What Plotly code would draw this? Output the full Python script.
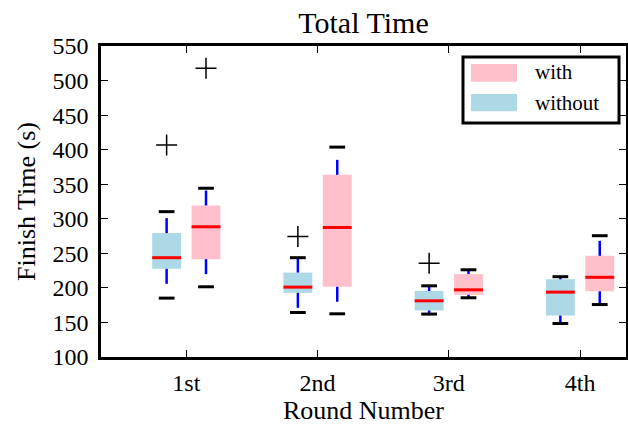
import plotly.graph_objects as go

# ---------------- data ----------------
rounds = ["1st", "2nd", "3rd", "4th"]
positions = [1, 2, 3, 4]

without_q1 = [227.6, 192.9, 167.3, 160.0]
without_med = [243.7, 201.1, 181.3, 193.9]
without_q3 = [279.3, 222.2, 195.5, 212.4]
without_lo = [185.2, 164.4, 162.1, 148.5]
without_hi = [310.3, 243.7, 203.0, 216.2]
without_out = [[406.8], [274.3], [235.6], []]

with_q1 = [241.6, 201.6, 190.0, 195.0]
with_med = [288.4, 287.4, 197.2, 215.3]
with_q3 = [319.2, 363.6, 220.0, 246.4]
with_lo = [201.6, 162.5, 185.7, 175.9]
with_hi = [344.2, 403.7, 226.2, 275.5]
with_out = [[517.7], [], [], []]

# ---------------- styling ----------------
FONT = "Liberation Serif"
BOX_W = 0.22
CAP_W = 0.12
OFFSET = 0.15

series = [
    ("without", -OFFSET, "lightblue", without_q1, without_med, without_q3, without_lo, without_hi, without_out),
    ("with", OFFSET, "pink", with_q1, with_med, with_q3, with_lo, with_hi, with_out),
]

fig = go.Figure()

# boxes
for name, off, color, q1, med, q3, lo, hi, outs in series:
    xs = [p + off for p in positions]
    fig.add_trace(go.Bar(
        x=xs, y=[b - a for a, b in zip(q1, q3)], base=q1, width=BOX_W,
        marker=dict(color=color, line=dict(width=0)),
        name=name, showlegend=False, hoverinfo="skip",
    ))

# whiskers, caps, medians, fliers
for name, off, color, q1, med, q3, lo, hi, outs in series:
    for p, a, m, b, l, h, o in zip(positions, q1, med, q3, lo, hi, outs):
        x = p + off
        for start, end in ((b, h), (a, l)):
            fig.add_trace(go.Scatter(
                x=[x, x], y=[start, end], mode="lines",
                line=dict(color="blue", width=2.5, dash="15px,20px"),
                showlegend=False, hoverinfo="skip",
            ))
        for v in (h, l):
            fig.add_trace(go.Scatter(
                x=[x - CAP_W / 2, x + CAP_W / 2], y=[v, v], mode="lines",
                line=dict(color="black", width=3),
                showlegend=False, hoverinfo="skip",
            ))
        fig.add_trace(go.Scatter(
            x=[x - BOX_W / 2, x + BOX_W / 2], y=[m, m], mode="lines",
            line=dict(color="red", width=3),
            showlegend=False, hoverinfo="skip",
        ))
        if o:
            fig.add_trace(go.Scatter(
                x=[x] * len(o), y=o, mode="markers",
                marker=dict(symbol="cross-thin", size=15, line=dict(color="black", width=1.5)),
                showlegend=False, hoverinfo="skip",
            ))

axis_common = dict(
    ticks="inside", ticklen=7, tickwidth=1, tickcolor="black",
    showline=True, linewidth=2.5, linecolor="black", mirror="ticks",
    showgrid=False, zeroline=False, automargin=False,
    tickfont=dict(family=FONT, size=24, color="black"),
)

fig.update_layout(
    width=628, height=426,
    margin=dict(l=101, r=2, t=46, b=69),
    paper_bgcolor="white", plot_bgcolor="white",
    barmode="overlay",
    title=dict(text="Total Time", x=0.5, xref="paper", y=1 - 22 / 426, yref="container",
               xanchor="center", yanchor="middle",
               font=dict(family=FONT, size=30, color="black")),
    xaxis=dict(range=[0.35, 4.35], tickvals=positions, ticktext=rounds, ticklabelstandoff=2,
               title=dict(text="Round Number", font=dict(family=FONT, size=26, color="black"), standoff=5),
               **axis_common),
    yaxis=dict(range=[100, 550], tick0=100, dtick=50, ticklabelstandoff=5,
               title=dict(text="Finish Time (s)", font=dict(family=FONT, size=26, color="black"), standoff=10),
               **axis_common),
)

# legend drawn as a framed box (paper coordinates)
fig.add_shape(type="rect", xref="paper", yref="paper", x0=0.6895, x1=0.9867, y0=0.7524, y1=0.9646,
              line=dict(color="black", width=3), fillcolor="white", layer="above")
legend_items = [("with", "pink", 0.8852, 0.9421, 0.9151), ("without", "lightblue", 0.790, 0.8457, 0.818)]
for label, col, y0, y1, yc in legend_items:
    fig.add_shape(type="rect", xref="paper", yref="paper", x0=0.7048, x1=0.7924, y0=y0, y1=y1,
                  line=dict(width=0), fillcolor=col, layer="above")
    fig.add_annotation(text=label, xref="paper", yref="paper", x=0.8229, y=yc,
                       xanchor="left", yanchor="middle", showarrow=False,
                       font=dict(family=FONT, size=21, color="black"))

fig.write_html("out.html", config={"displayModeBar": False},
               post_script="document.body.style.margin='0';")
